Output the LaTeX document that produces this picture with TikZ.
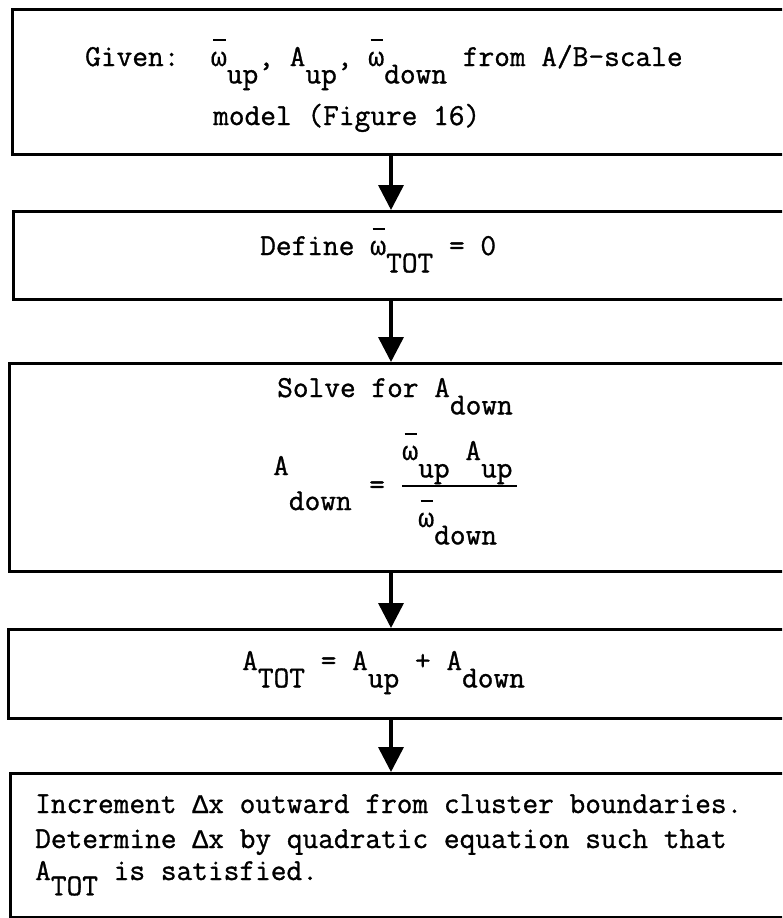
\documentclass[tikz,border=0pt]{standalone}
\usepackage{fontspec}
\newfontfamily\twfont{Latin Modern Mono}[FakeBold=1.0]
\newfontfamily\grk{Liberation Mono}[Scale=0.875, FakeBold=0.5]
\usepackage{tikz}
\usetikzlibrary{arrows.meta}

\newcommand{\lowr}[1]{\raisebox{-0.57em}{#1}}
\newcommand{\om}{{\grk ω}}
\newcommand{\dlt}{{\grk Δ}}
\newcommand{\wbar}{\rlap{\hspace{0.08em}\raisebox{0.82em}{\rule{0.4em}{1.8pt}}}\om}
\newcommand{\tw}{\fontsize{30.5}{36}\selectfont}

\begin{document}
\begin{tikzpicture}[x=1pt, y=-1pt,
  flowbox/.style={draw, line width=3.2pt, anchor=north west, minimum width=830pt, inner sep=0pt},
  flowarrow/.style={line width=3.6pt, -{Triangle[width=25pt, length=25pt]}},
  txt/.style={inner sep=0pt, anchor=base west, font=\twfont\tw}]
  \useasboundingbox (0,0) rectangle (782,918);
  \clip (0,0) rectangle (782,918);

  % --- boxes (open to the right, as in the scan) ---
  \node[flowbox, minimum height=145pt] (given) at (11,8) {};
  \node[flowbox, minimum height=88pt]  (defw)  at (12,210) {};
  \node[flowbox, minimum height=208pt] (solve) at (8,362) {};
  \node[flowbox, minimum height=89pt]  (atot)  at (7,628) {};
  \node[flowbox, minimum height=144pt] (incr)  at (9,772) {};

  % --- flow arrows ---
  \coordinate (ax) at (391,0);
  \draw[flowarrow] (given.south -| ax) -- (defw.north -| ax);
  \draw[flowarrow] (defw.south -| ax) -- (solve.north -| ax);
  \draw[flowarrow] (solve.south -| ax) -- (atot.north -| ax);
  \draw[flowarrow] (atot.south -| ax) -- (incr.north -| ax);

  % --- box texts ---
  \node[txt] (givenA) at (85,66) {Given:\ \ \wbar\lowr{up}, A\lowr{up}, \wbar\lowr{down} from A/B-scale};
  \node[txt] (givenB) at (213,125) {model (Figure 16)};

  \node[txt] (defineT) at (260,255) {Define \wbar\lowr{TOT} = 0};

  \node[txt] (solveT) at (277,397) {Solve for A\lowr{down}};
  \node[txt] (eqL)   at (273,475) {A\raisebox{-1.15em}{down}};
  \node[txt] (eqEq)  at (369,494) {=};
  \node[txt] (eqNum) at (402,460) {\wbar\lowr{up} A\lowr{up}};
  \node[txt] (eqDen) at (418,527) {\wbar\lowr{down}};
  \draw[line width=2pt] (402,486) -- (517,486);

  \node[txt] (atotT) at (242,670) {A\lowr{TOT} = A\lowr{up} + A\lowr{down}};

  \node[txt] (incrA) at (35,813) {Increment \dlt x outward from cluster boundaries.};
  \node[txt] (incrB) at (35,848) {Determine \dlt x by quadratic equation such that};
  \node[txt] (incrC) at (35,880) {A\raisebox{-0.5em}{TOT} is satisfied.};
\end{tikzpicture}
\end{document}
